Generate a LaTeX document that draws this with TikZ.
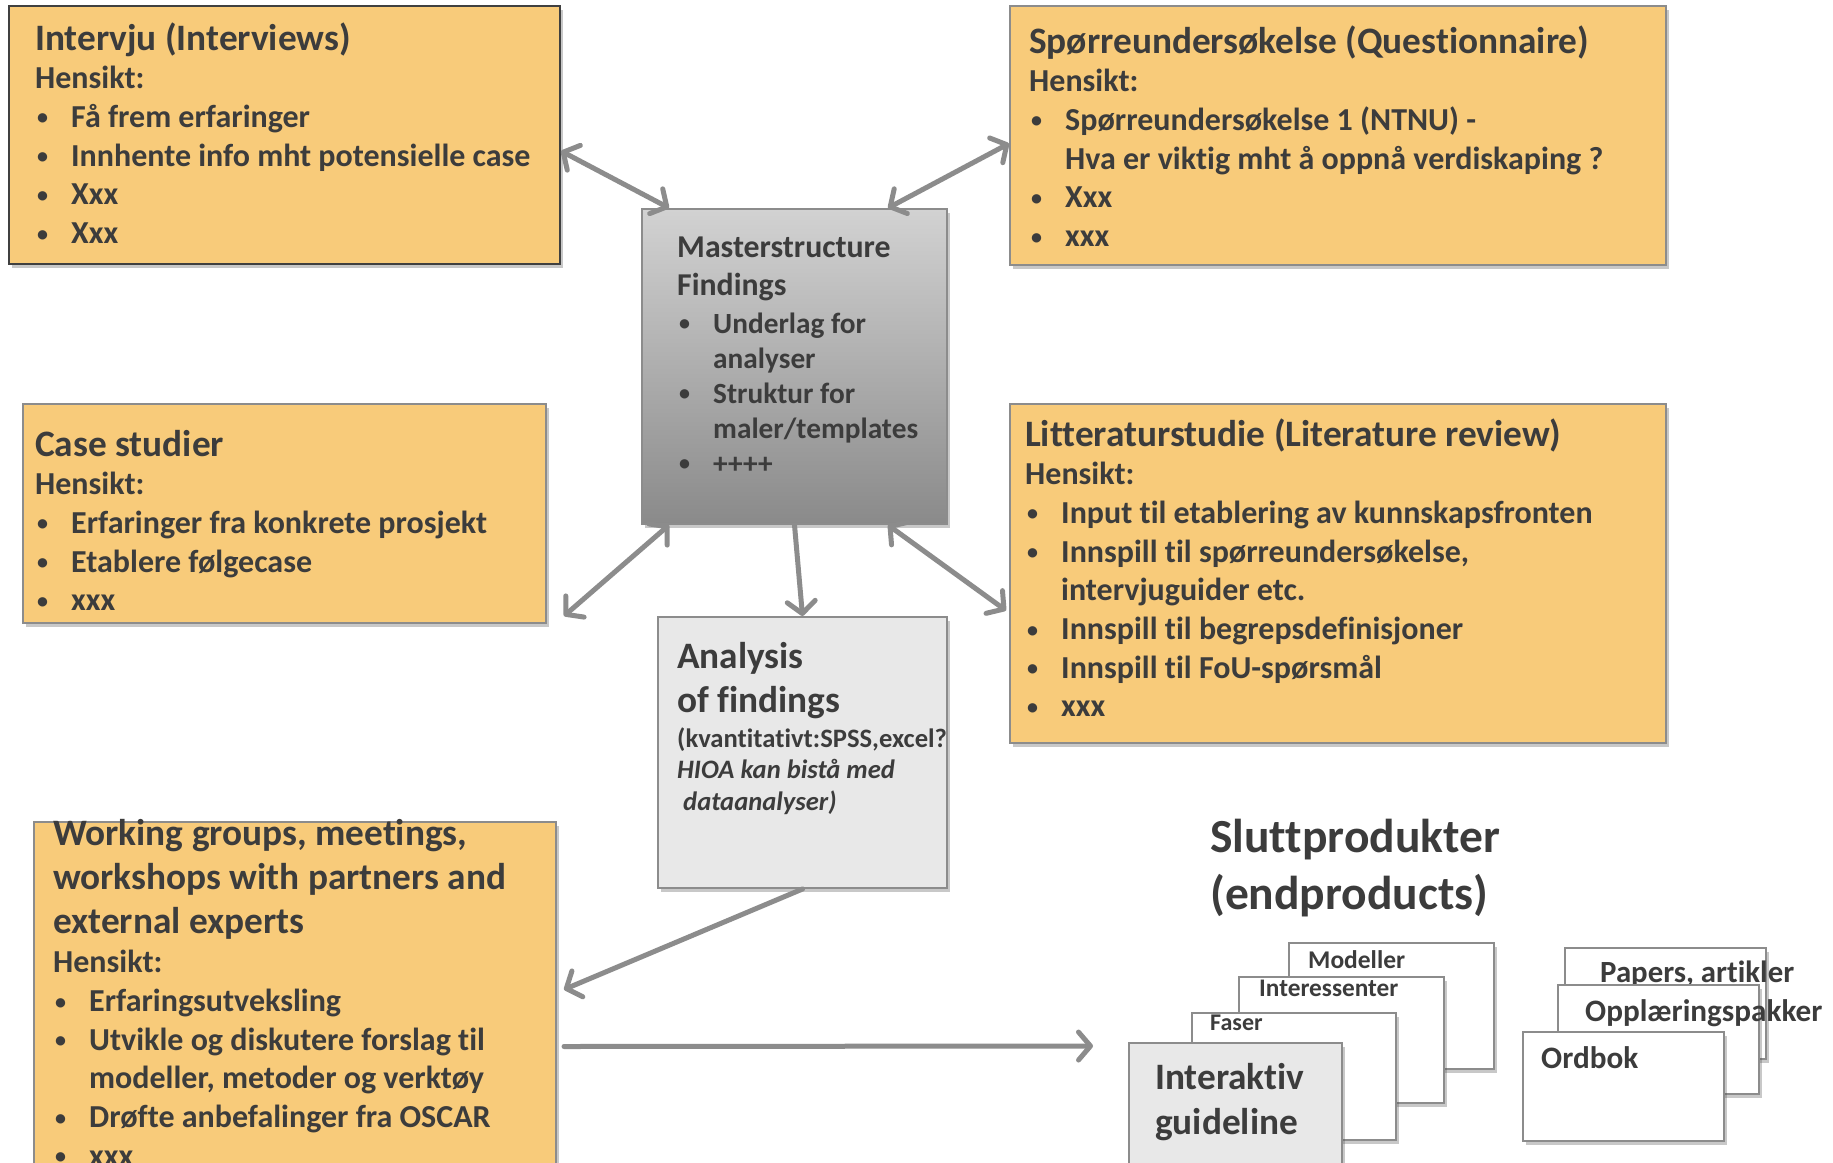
\documentclass[tikz,border=0pt]{standalone}
\usepackage{fontspec}
\setmainfont{Carlito}[Ligatures=NoCommon]
\usetikzlibrary{arrows.meta,shadows,calc}

\definecolor{boxfill}{HTML}{F8CB7A}
\definecolor{txtc}{HTML}{3C3C3C}
\definecolor{edgec}{HTML}{8C8C8C}
\definecolor{darkedge}{HTML}{404040}
\definecolor{arrc}{HTML}{8C8C8C}
\definecolor{lightg}{HTML}{E8E8E8}
\definecolor{gtop}{HTML}{D2D2D2}
\definecolor{gbot}{HTML}{8A8A8A}

% font sizes (1pt = 1px of the drawing)
\newcommand\ttl{\fontsize{37.3}{38.7}\selectfont}
\newcommand\bdy{\fontsize{32}{38.7}\selectfont}
% small bullet
\newcommand\blt{\raisebox{2.5pt}{\fontsize{22}{22}\selectfont\textbullet}}
% bullet item with hanging indent
\newcommand\itm{\par\hangindent=36pt\hangafter=1\noindent\makebox[36pt][l]{\hspace*{2pt}\blt}}

\tikzset{
  shade/.style={drop shadow={shadow xshift=3pt,shadow yshift=-4pt,opacity=0.3,fill=black!70}},
  ybox/.style={draw=edgec, line width=2pt, fill=boxfill, anchor=north west, inner sep=0pt, shade},
  gbox/.style={draw=edgec, line width=2pt, anchor=north west, inner sep=0pt, shade},
  card/.style={draw=edgec, line width=2pt, fill=white, anchor=north west, inner sep=0pt, shade},
  txt/.style={anchor=base west, inner sep=0pt, text=txtc, font=\bfseries},
  conn/.style={draw=arrc, line width=5pt, line cap=round},
}

\begin{document}
\begin{tikzpicture}[x=1pt,y=-1pt,>={Straight Barb[length=12pt,width=28pt,round]}]
\fill[white] (0,0) rectangle (1833,1162);
\useasboundingbox (0,0) rectangle (1833,1162);

% ---- method boxes ----
\node[ybox, draw=darkedge, minimum width=551pt, minimum height=258pt] (intervju) at (8,5) {};
\node[txt] (intervjutxt) at (35,50) {\parbox[t]{600pt}{\ttl Intervju (Interviews)\par
  \bdy Hensikt:
  \itm Få frem erfaringer
  \itm Innhente info mht potensielle case
  \itm Xxx
  \itm Xxx}};

\node[ybox, minimum width=656pt, minimum height=259pt] (spore) at (1009,5) {};
\node[txt] (sporetxt) at (1029,53) {\parbox[t]{640pt}{\ttl Spørreundersøkelse (Questionnaire)\par
  \bdy Hensikt:
  \itm Spørreundersøkelse 1 (NTNU) -\\Hva er viktig mht å oppnå verdiskaping ?
  \itm Xxx
  \itm xxx}};

\node[ybox, minimum width=523pt, minimum height=219pt] (case) at (22,403) {};
\node[txt] (casetxt) at (35,456) {\parbox[t]{520pt}{\ttl Case studier\par
  \bdy Hensikt:
  \itm Erfaringer fra konkrete prosjekt
  \itm Etablere følgecase
  \itm xxx}};

\node[ybox, minimum width=656pt, minimum height=339pt] (lit) at (1009,403) {};
\node[txt] (littxt) at (1025,446) {\parbox[t]{640pt}{\ttl Litteraturstudie (Literature review)\par
  \bdy Hensikt:
  \itm Input til etablering av kunnskapsfronten
  \itm Innspill til spørreundersøkelse,\\intervjuguider etc.
  \itm Innspill til begrepsdefinisjoner
  \itm Innspill til FoU-spørsmål
  \itm xxx}};

\node[ybox, minimum width=522pt, minimum height=345pt] (working) at (33,821) {};
\node[txt] (workingtxt) at (53,845) {\parbox[t]{600pt}{\fontsize{37.3}{44.4}\selectfont
  Working groups, meetings,\\workshops with partners and\\external experts\par
  \bdy\vspace{0.3pt}Hensikt:
  \itm Erfaringsutveksling
  \itm Utvikle og diskutere forslag til\\modeller, metoder og verktøy
  \itm Drøfte anbefalinger fra OSCAR
  \itm xxx}};

% ---- centre boxes ----
\node[gbox, top color=gtop, bottom color=gbot, minimum width=305pt, minimum height=315pt] (master) at (641,208) {};
\node[txt] (mastertxt) at (677,257) {\parbox[t]{300pt}{\fontsize{31.8}{38.6}\selectfont
  Masterstructure\\Findings\par
  \fontsize{29.3}{35}\selectfont\vspace{2.4pt}
  \itm Underlag for\\analyser
  \itm Struktur for\\maler/templates
  \itm ++++}};

\node[gbox, fill=lightg, minimum width=289pt, minimum height=271pt] (analysis) at (657,616) {};
\node[txt] (analysistxt) at (677,668) {\parbox[t]{320pt}{\fontsize{37.3}{44}\selectfont
  Analysis\\of findings\par
  \fontsize{26.6}{31.6}\selectfont\vspace{3.4pt}
  (kvantitativt:SPSS,excel?\\\textit{HIOA kan bistå med}\\\hspace*{6pt}\textit{dataanalyser)}}};

% ---- end products ----
\node[txt] (slutt) at (1210,852) {\parbox[t]{400pt}{\fontsize{47.5}{57}\selectfont Sluttprodukter\\(endproducts)}};

\node[card, minimum width=205pt, minimum height=126pt] (modeller) at (1288,942) {};
\node[txt, font=\bfseries\fontsize{25.5}{30}\selectfont] (modellertxt) at (1308,968) {Modeller};
\node[card, minimum width=205pt, minimum height=126pt] (interessenter) at (1238,976) {};
\node[txt, font=\bfseries\fontsize{25.3}{30}\selectfont] (interessentertxt) at (1259,996) {Interessenter};
\node[card, minimum width=204pt, minimum height=127pt] (faser) at (1191,1012) {};
\node[txt, font=\bfseries\fontsize{24}{30}\selectfont] (fasertxt) at (1210,1030) {Faser};
\node[card, fill=lightg, minimum width=213pt, minimum height=125pt] (guide) at (1128,1042) {};
\node[txt] (guidetxt) at (1155,1089) {\parbox[t]{200pt}{\fontsize{37.3}{45}\selectfont Interaktiv\\guideline}};

\node[card, minimum width=201pt, minimum height=111pt] (papers) at (1564,947) {};
\node[txt, font=\bfseries\fontsize{30.8}{36}\selectfont] (paperstxt) at (1600,982) {Papers, artikler};
\node[card, minimum width=201pt, minimum height=109pt] (oppl) at (1557,984) {};
\node[txt, font=\bfseries\fontsize{31.2}{36}\selectfont] (oppltxt) at (1585,1021) {Opplæringspakker};
\node[card, minimum width=201pt, minimum height=109pt] (ordbok) at (1522,1031) {};
\node[txt, font=\bfseries\fontsize{31.2}{36}\selectfont] (ordboktxt) at (1541,1068) {Ordbok};

% ---- connectors ----
\draw[conn,<->] ([yshift=-16pt]intervju.east) -- ([xshift=28pt]master.north west);
\draw[conn,<->] ([yshift=-8pt]spore.west) -- ([xshift=-60pt]master.north east);
\draw[conn,<->] ([shift={(17pt,8pt)}]case.south east) -- ([xshift=28pt]master.south west);
\draw[conn,<->] ([xshift=-60pt]master.south east) -- ([shift={(-3pt,-37pt)}]lit.west);
\draw[conn,->] (master.south) -- (analysis.north);
\draw[conn,->] (analysis.south) -- ([shift={(7pt,5pt)}]working.east);
\coordinate (sluttin) at (1093,1046);
\draw[conn,->] ([shift={(7pt,-52pt)}]working.east) -- (sluttin);
\end{tikzpicture}
\end{document}
